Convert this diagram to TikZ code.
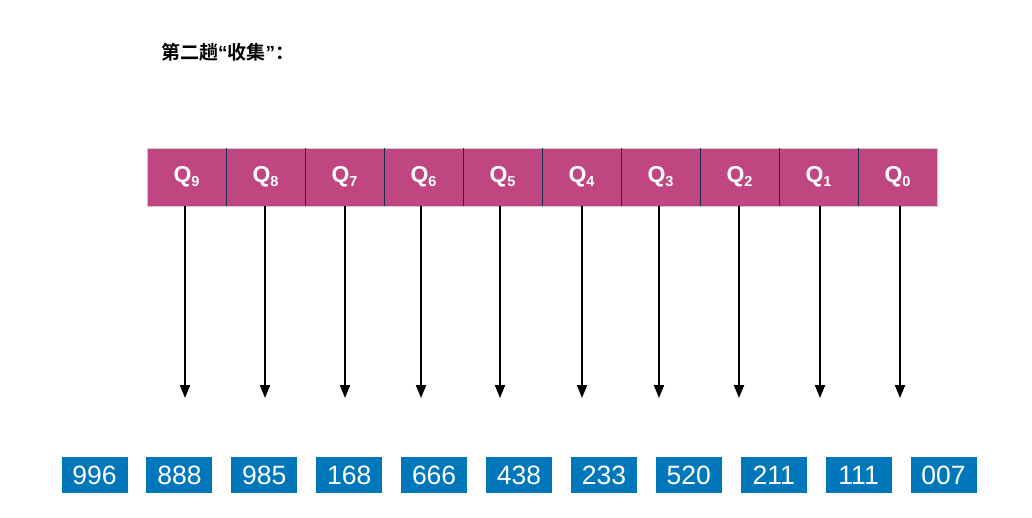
\documentclass[tikz,border=0pt]{standalone}
\usepackage{fontspec}
\setmainfont{Liberation Sans}
\newfontfamily\cjkfont{Noto Sans CJK SC}[BoldFont={* Bold}]
\usetikzlibrary{arrows.meta}
\definecolor{qbar}{HTML}{BF4680}
\definecolor{qdiv}{HTML}{1E2B4E}
\definecolor{numblue}{HTML}{0077BB}
\begin{document}
\begin{tikzpicture}[x=1pt,y=-1pt,
  qcell/.style={draw=none,fill=qbar,minimum width=79pt,minimum height=57.5pt,inner sep=0pt,
    text=white,font=\fontsize{23}{23}\selectfont\bfseries},
  numbox/.style={fill=numblue,minimum width=66pt,minimum height=36pt,inner sep=0pt,
    text=white,font=\fontsize{26.5}{26.5}\selectfont},
  darr/.style={line width=2pt,-{Triangle[length=13pt,width=10pt]}}]
\useasboundingbox (0,0) rectangle (1032,517);
\node[anchor=west,inner sep=0pt,font=\cjkfont\bfseries\fontsize{19}{19}\selectfont] (title) at (161,52)
  {第二趟{\rmfamily\bfseries “}收集{\rmfamily\bfseries ”}：};
% queue bar
\foreach \i/\q in {0/9,1/8,2/7,3/6,4/5,5/4,6/3,7/2,8/1,9/0}{
  \node[qcell] (q\i) at ({186.5+79*\i},177) {Q\raisebox{-0.3ex}{\fontsize{14.5}{14.5}\selectfont\q}};
}
\draw[gray!40,line width=0.6pt] (q0.north west) rectangle (q9.south east);
\foreach \i in {0,...,8}{
  \draw[qdiv,line width=1.4pt] (q\i.north east) -- (q\i.south east);
}
% numbers
\foreach \i/\n in {0/996,1/888,2/985,3/168,4/666,5/438,6/233,7/520,8/211,9/111,10/007}{
  \node[numbox] (n\i) at ({94.5+84.9*\i},475) {\n};
}
% arrows
\foreach \i/\x in {0/185,1/265,2/345,3/421,4/500,5/582,6/659,7/739,8/820,9/900}{
  \coordinate (e\i) at (\x,398);
  \draw[darr] (q\i.south -| e\i) -- (e\i);
}
\end{tikzpicture}
\end{document}
